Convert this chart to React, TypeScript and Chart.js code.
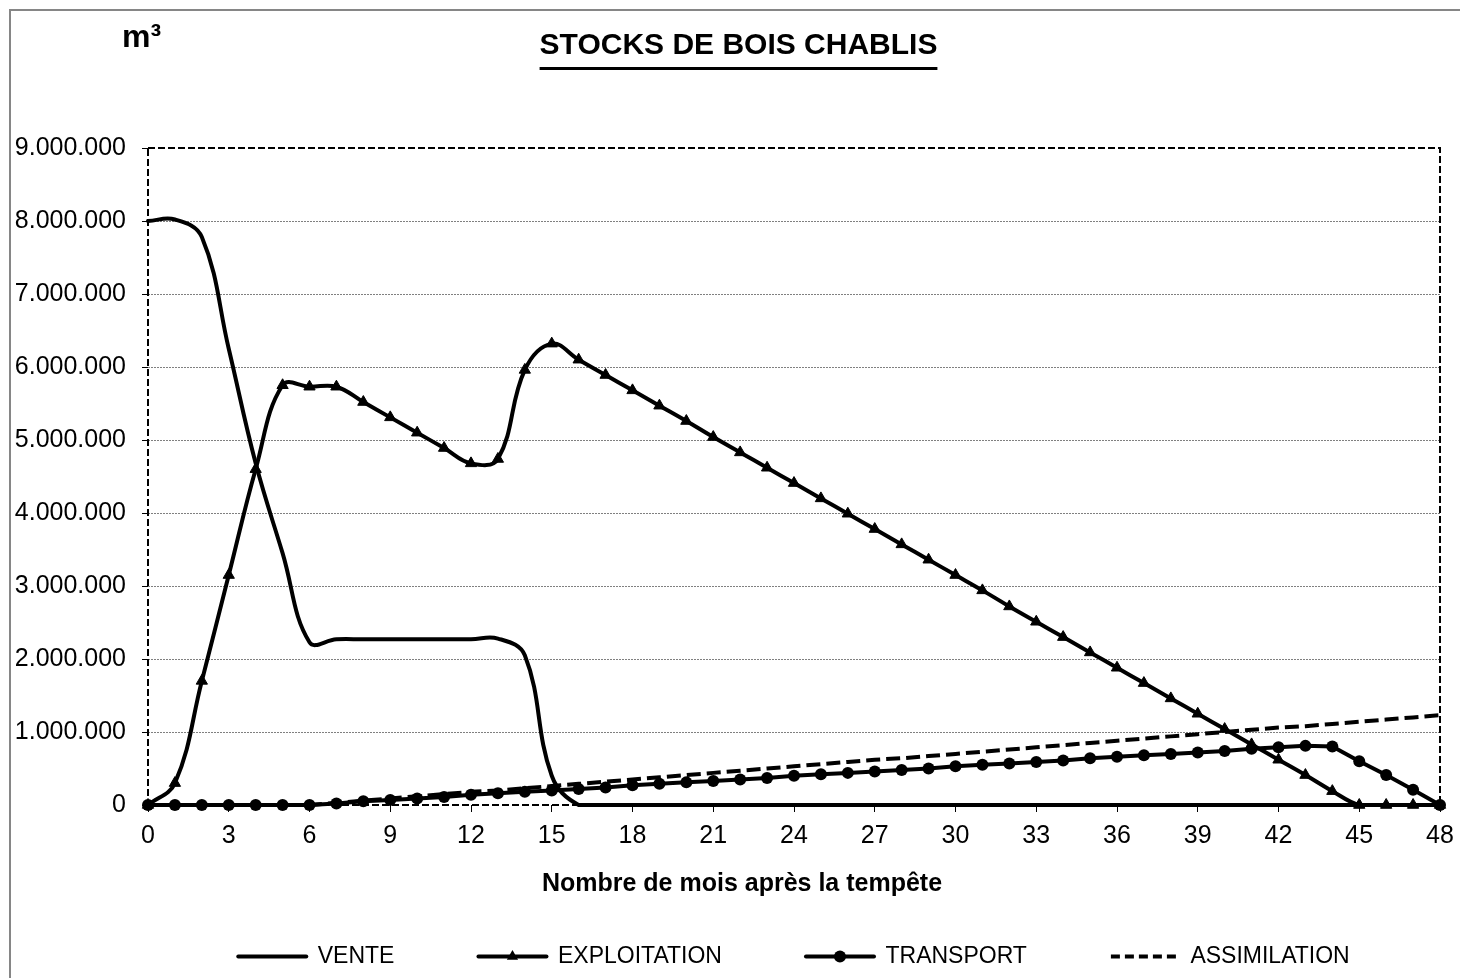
import React, { useEffect, useRef } from 'react';
import { Chart, registerables } from 'chart.js';

Chart.register(...registerables);

const FONT = '"Liberation Sans", Arial, Helvetica, sans-serif';
const TITLE = 'STOCKS DE BOIS CHABLIS';
const UNIT_LABEL = 'm³';
const X_TITLE = 'Nombre de mois après la tempête';

const MONTHS = [
  0, 1, 2, 3, 4, 5, 6, 7, 8, 9, 10, 11, 12, 13, 14, 15, 16, 17, 18, 19, 20, 21, 22, 23, 24,
  25, 26, 27, 28, 29, 30, 31, 32, 33, 34, 35, 36, 37, 38, 39, 40, 41, 42, 43, 44, 45, 46, 47, 48,
];

const VENTE = [
  8000000, 8020000, 7780000, 6250000, 4680000, 3450000, 2230000, 2270000, 2270000, 2270000,
  2270000, 2270000, 2270000, 2280000, 2050000, 400000, 0, 0, 0, 0, 0, 0, 0, 0, 0, 0, 0, 0, 0,
  0, 0, 0, 0, 0, 0, 0, 0, 0, 0, 0, 0, 0, 0, 0, 0, 0, 0, 0, 0,
];

const EXPLOITATION = [
  0, 300000, 1700000, 3150000, 4600000, 5750000, 5730000, 5730000, 5520000, 5310000, 5100000,
  4890000, 4680000, 4740000, 5960000, 6320000, 6100000, 5890000, 5680000, 5470000, 5260000,
  5040000, 4830000, 4620000, 4410000, 4200000, 3990000, 3780000, 3570000, 3360000, 3150000,
  2940000, 2720000, 2510000, 2300000, 2090000, 1880000, 1670000, 1460000, 1250000, 1040000,
  830000, 620000, 410000, 190000, 0, 0, 0, 0,
];

const TRANSPORT = [
  0, 0, 0, 0, 0, 0, 0, 20000, 50000, 70000, 90000, 110000, 140000, 160000, 180000, 200000,
  220000, 240000, 270000, 290000, 310000, 330000, 350000, 370000, 400000, 420000, 440000,
  460000, 480000, 500000, 530000, 550000, 570000, 590000, 610000, 640000, 660000, 680000,
  700000, 720000, 740000, 770000, 790000, 810000, 800000, 600000, 410000, 210000, 0,
];

const ASSIMILATION = [
  0, 0, 0, 0, 0, 0, 0, 30000, 60000, 90000, 120000, 150000, 180000, 200000, 230000, 260000,
  290000, 320000, 350000, 380000, 410000, 440000, 470000, 500000, 530000, 560000, 590000,
  620000, 640000, 670000, 700000, 730000, 760000, 790000, 820000, 850000, 880000, 910000,
  940000, 970000, 1000000, 1030000, 1060000, 1080000, 1110000, 1140000, 1170000, 1200000,
  1230000,
];

const SERIES_NAMES = ['VENTE', 'EXPLOITATION', 'TRANSPORT', 'ASSIMILATION'];

const Y_MIN = 0;
const Y_MAX = 9000000;
const Y_STEP = 1000000;
const X_MIN = 0;
const X_MAX = 48;
const X_STEP = 3;

const TICK_FONT = 25;
const LEGEND_FONT = 23;
const LEGEND_BOX = 68;
const LEGEND_GAP = 84;

function formatThousands(v: number): string {
  return String(Math.round(v)).replace(/\B(?=(\d{3})+(?!\d))/g, '.');
}

function toPoints(values: number[]) {
  return MONTHS.map((m, i) => ({ x: m, y: values[i] }));
}

function drawTriangle(ctx: CanvasRenderingContext2D, x: number, y: number, r: number) {
  ctx.beginPath();
  for (let k = 0; k < 3; k++) {
    const a = (k * 2 * Math.PI) / 3;
    const px = x + Math.sin(a) * r;
    const py = y - Math.cos(a) * r;
    if (k === 0) ctx.moveTo(px, py);
    else ctx.lineTo(px, py);
  }
  ctx.closePath();
  ctx.fill();
}

function drawCircle(ctx: CanvasRenderingContext2D, x: number, y: number, r: number) {
  ctx.beginPath();
  ctx.arc(x, y, r, 0, Math.PI * 2);
  ctx.fill();
}

const decorPlugin = {
  id: 'decor',
  beforeDatasetsDraw(chart: any) {
    const { ctx, chartArea: a } = chart;
    ctx.save();
    ctx.strokeStyle = '#000';
    ctx.lineWidth = 2;
    ctx.setLineDash([7, 3]);
    ctx.strokeRect(a.left, a.top, a.right - a.left, a.bottom - a.top);
    ctx.restore();
  },
  afterDraw(chart: any) {
    const ctx: CanvasRenderingContext2D = chart.ctx;
    ctx.save();
    ctx.fillStyle = '#000';
    // unit label
    ctx.font = `bold 32px ${FONT}`;
    ctx.textAlign = 'left';
    ctx.textBaseline = 'alphabetic';
    ctx.fillText(UNIT_LABEL, 122, 47);
    // title underline
    const tb = chart.titleBlock;
    ctx.font = `bold 30px ${FONT}`;
    const w = ctx.measureText(TITLE).width;
    const cx = (tb.left + tb.right) / 2;
    ctx.fillRect(cx - w / 2, 67, w, 3);
    // x axis title
    ctx.font = `bold 25px ${FONT}`;
    ctx.textAlign = 'center';
    ctx.textBaseline = 'middle';
    ctx.fillText(X_TITLE, 742, 884);
    // legend markers
    const lg = chart.legend;
    if (lg && lg.legendHitBoxes) {
      lg.legendHitBoxes.forEach((hb: any, i: number) => {
        const mx = hb.left + LEGEND_BOX / 2;
        const my = hb.top + LEGEND_FONT / 2;
        if (i === 1) drawTriangle(ctx, mx, my, 6.5);
        if (i === 2) drawCircle(ctx, mx, my, 6);
      });
    }
    ctx.restore();
  },
};

export default function App() {
  const canvasRef = useRef<HTMLCanvasElement | null>(null);

  useEffect(() => {
    if (!canvasRef.current) return;
    const chart = new Chart(canvasRef.current, {
      type: 'line',
      data: {
        datasets: [
          {
            label: SERIES_NAMES[0],
            data: toPoints(VENTE),
            borderColor: '#000',
            backgroundColor: '#000',
            borderWidth: 4,
            borderCapStyle: 'round',
            pointRadius: 0,
            tension: 0.4,
            clip: false,
          },
          {
            label: SERIES_NAMES[1],
            data: toPoints(EXPLOITATION),
            borderColor: '#000',
            backgroundColor: '#000',
            borderWidth: 4,
            borderCapStyle: 'round',
            pointStyle: 'triangle',
            pointRadius: 6.5,
            pointBorderWidth: 1,
            pointBackgroundColor: '#000',
            pointBorderColor: '#000',
            tension: 0.4,
            clip: false,
          },
          {
            label: SERIES_NAMES[2],
            data: toPoints(TRANSPORT),
            borderColor: '#000',
            backgroundColor: '#000',
            borderWidth: 4,
            borderCapStyle: 'round',
            pointStyle: 'circle',
            pointRadius: 6,
            pointBorderWidth: 0,
            pointBackgroundColor: '#000',
            tension: 0,
            clip: false,
          },
          {
            label: SERIES_NAMES[3],
            data: toPoints(ASSIMILATION),
            borderColor: '#000',
            backgroundColor: '#000',
            borderWidth: 4,
            borderDash: [14, 6],
            borderCapStyle: 'butt',
            pointRadius: 0,
            tension: 0,
            clip: false,
          },
        ],
      },
      options: {
        responsive: false,
        animation: false,
        devicePixelRatio: 1,
        layout: { padding: { left: 0, right: 0, top: 0, bottom: 0 } },
        plugins: {
          title: {
            display: true,
            text: TITLE,
            color: '#000',
            font: { family: FONT, size: 30, weight: 'bold' },
            padding: { top: 28, bottom: 84 },
          },
          legend: {
            display: true,
            position: 'bottom',
            align: 'center',
            fullSize: false,
            labels: {
              color: '#000',
              font: { family: FONT, size: LEGEND_FONT },
              usePointStyle: true,
              pointStyle: 'line',
              pointStyleWidth: LEGEND_BOX,
              padding: LEGEND_GAP,
              generateLabels: (ch: any) =>
                ch.data.datasets.map((ds: any, i: number) => ({
                  text: ds.label,
                  fillStyle: ds.borderColor,
                  strokeStyle: ds.borderColor,
                  fontColor: '#000',
                  lineWidth: ds.borderWidth,
                  lineDash: ds.borderDash ? [9, 5] : [],
                  lineCap: ds.borderDash ? 'butt' : 'round',
                  pointStyle: 'line',
                  hidden: false,
                  datasetIndex: i,
                })),
            },
          },
          tooltip: { enabled: false },
        },
        scales: {
          x: {
            type: 'linear',
            min: X_MIN,
            max: X_MAX,
            afterFit: (scale: any) => {
              scale.height = 56;
            },
            ticks: {
              stepSize: X_STEP,
              autoSkip: false,
              maxRotation: 0,
              color: '#000',
              padding: 9,
              font: { family: FONT, size: TICK_FONT },
            },
            grid: {
              drawOnChartArea: false,
              drawTicks: true,
              tickLength: 7,
              tickColor: '#000',
              tickWidth: 1,
            },
            border: { display: false },
          },
          y: {
            type: 'linear',
            position: 'left',
            min: Y_MIN,
            max: Y_MAX,
            afterFit: (scale: any) => {
              scale.width = 148;
            },
            ticks: {
              stepSize: Y_STEP,
              color: '#000',
              padding: 16,
              font: { family: FONT, size: TICK_FONT },
              callback: (v: any) => formatThousands(Number(v)),
            },
            grid: {
              drawOnChartArea: true,
              color: (c: any) =>
                c.tick && (c.tick.value === Y_MIN || c.tick.value === Y_MAX)
                  ? 'rgba(0,0,0,0)'
                  : '#808080',
              lineWidth: 1,
              drawTicks: true,
              tickLength: 6,
              tickColor: '#000',
              tickWidth: 1,
            },
            border: { display: false, dash: [2, 1] },
          },
          yRight: {
            type: 'linear',
            position: 'right',
            display: true,
            afterFit: (scale: any) => {
              scale.width = 37;
            },
            ticks: { display: false },
            grid: { display: false, drawTicks: false },
            border: { display: false },
          },
        },
      },
      plugins: [decorPlugin],
    } as any);
    return () => chart.destroy();
  }, []);

  return (
    <div
      style={{
        position: 'fixed',
        left: 0,
        top: 0,
        width: 1460,
        height: 978,
        background: '#fff',
        overflow: 'hidden',
      }}
    >
      <div
        style={{
          position: 'absolute',
          left: 9,
          top: 9,
          width: 1480,
          height: 1000,
          borderLeft: '2px solid #868686',
          borderTop: '2px solid #868686',
        }}
      />
      <canvas
        ref={canvasRef}
        width={1477}
        height={978}
        style={{ position: 'absolute', left: 0, top: 0, width: 1477, height: 978 }}
      />
    </div>
  );
}
